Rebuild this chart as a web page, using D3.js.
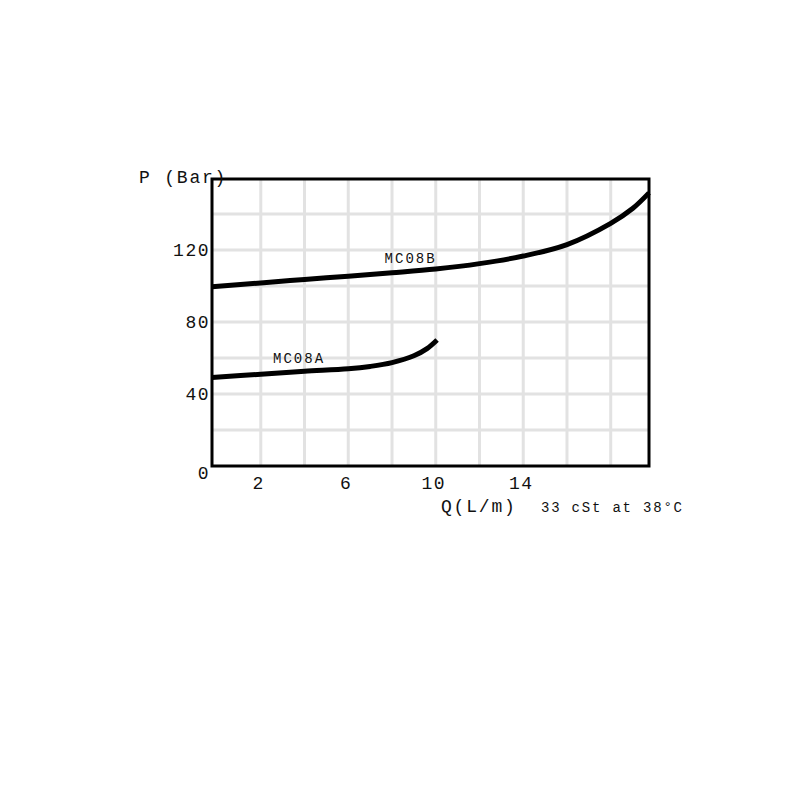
<!DOCTYPE html>
<html>
<head>
<meta charset="utf-8">
<script src="https://cdn.jsdelivr.net/npm/d3@7"></script>
<style>
  body { margin: 0; background: #fff; }
  text { font-family: "Liberation Mono", "DejaVu Sans Mono", monospace; fill: #111; }
</style>
</head>
<body>
<div id="chart"></div>
<script>
// tick values
var xTicks = [2, 6, 10, 14];
var xGrid = [2, 4, 6, 8, 10, 12, 14, 16, 18];
var yTicks = [0, 40, 80, 120];
var yGrid = [20, 40, 60, 80, 100, 120, 140];

// series (Q in L/m, P in Bar)
var mc08aQ = [-0.23, 2.0, 4.0, 6.0, 7.0, 8.0, 9.0, 9.6, 10.06];
var mc08aP = [49.1, 51.0, 52.6, 54.0, 55.3, 57.4, 61.2, 65.2, 70.0];
var mc08bQ = [-0.23, 2.0, 4.0, 6.0, 8.0, 10.0, 12.0, 14.0, 16.0, 18.0, 19.0, 19.75];
var mc08bP = [99.6, 101.7, 103.6, 105.4, 107.3, 109.4, 112.4, 116.6, 123.0, 134.8, 143, 151.7];

var svg = d3.select("#chart").append("svg")
    .attr("width", 800)
    .attr("height", 800);

var x = d3.scaleLinear().domain([-0.23, 19.75]).range([212, 649]);
var y = d3.scaleLinear().domain([0, 159.4]).range([466, 179]);

//grid
svg.selectAll(".vgrid").data(xGrid).enter().append("line")
    .attr("x1", function(d) { return x(d); })
    .attr("x2", function(d) { return x(d); })
    .attr("y1", y(0)).attr("y2", y(159.4))
    .attr("stroke", "#e2e2e2").attr("stroke-width", 3);
svg.selectAll(".hgrid").data(yGrid).enter().append("line")
    .attr("y1", function(d) { return y(d); })
    .attr("y2", function(d) { return y(d); })
    .attr("x1", x(-0.23)).attr("x2", x(19.75))
    .attr("stroke", "#e2e2e2").attr("stroke-width", 3);

//frame
svg.append("rect")
    .attr("x", x(-0.23)).attr("y", y(159.4))
    .attr("width", x(19.75) - x(-0.23))
    .attr("height", y(0) - y(159.4))
    .attr("fill", "none").attr("stroke", "#000").attr("stroke-width", 3);

//tick labels
svg.selectAll(".xlab").data(xTicks).enter().append("text")
    .attr("x", function(d) { return x(d) - 2; })
    .attr("y", 489)
    .attr("text-anchor", "middle")
    .attr("font-size", 18)
    .attr("letter-spacing", 1.5)
    .text(function(d) { return d; });
svg.selectAll(".ylab").data(yTicks).enter().append("text")
    .attr("x", 210)
    .attr("y", function(d) { return d === 0 ? y(d) + 13 : y(d) + 6; })
    .attr("text-anchor", "end")
    .attr("font-size", 18)
    .attr("letter-spacing", 1.5)
    .text(function(d) { return d; });

//axis titles
svg.append("text").attr("x", 139).attr("y", 183).attr("font-size", 18)
    .attr("letter-spacing", 1.8).text("P (Bar)");
svg.append("text").attr("x", 441).attr("y", 512).attr("font-size", 18)
    .attr("letter-spacing", 1.8).text("Q(L/m)");
svg.append("text").attr("x", 541).attr("y", 512).attr("font-size", 14)
    .attr("letter-spacing", 1.8).text("33 cSt at 38°C");

//curves
var line = d3.line()
    .x(function(d) { return x(d[0]); })
    .y(function(d) { return y(d[1]); })
    .curve(d3.curveCatmullRom);

svg.append("path")
    .datum(d3.zip(mc08aQ, mc08aP))
    .attr("d", line)
    .attr("fill", "none").attr("stroke", "#000").attr("stroke-width", 5);
svg.append("path")
    .datum(d3.zip(mc08bQ, mc08bP))
    .attr("d", line)
    .attr("fill", "none").attr("stroke", "#000").attr("stroke-width", 5);

//series labels
svg.append("text").attr("x", x(3.75)).attr("y", y(57.2)).attr("text-anchor", "middle")
    .attr("font-size", 14).attr("letter-spacing", 2).text("MC08A");
svg.append("text").attr("x", x(8.85)).attr("y", y(112.8)).attr("text-anchor", "middle")
    .attr("font-size", 14).attr("letter-spacing", 2).text("MC08B");
</script>
</body>
</html>
